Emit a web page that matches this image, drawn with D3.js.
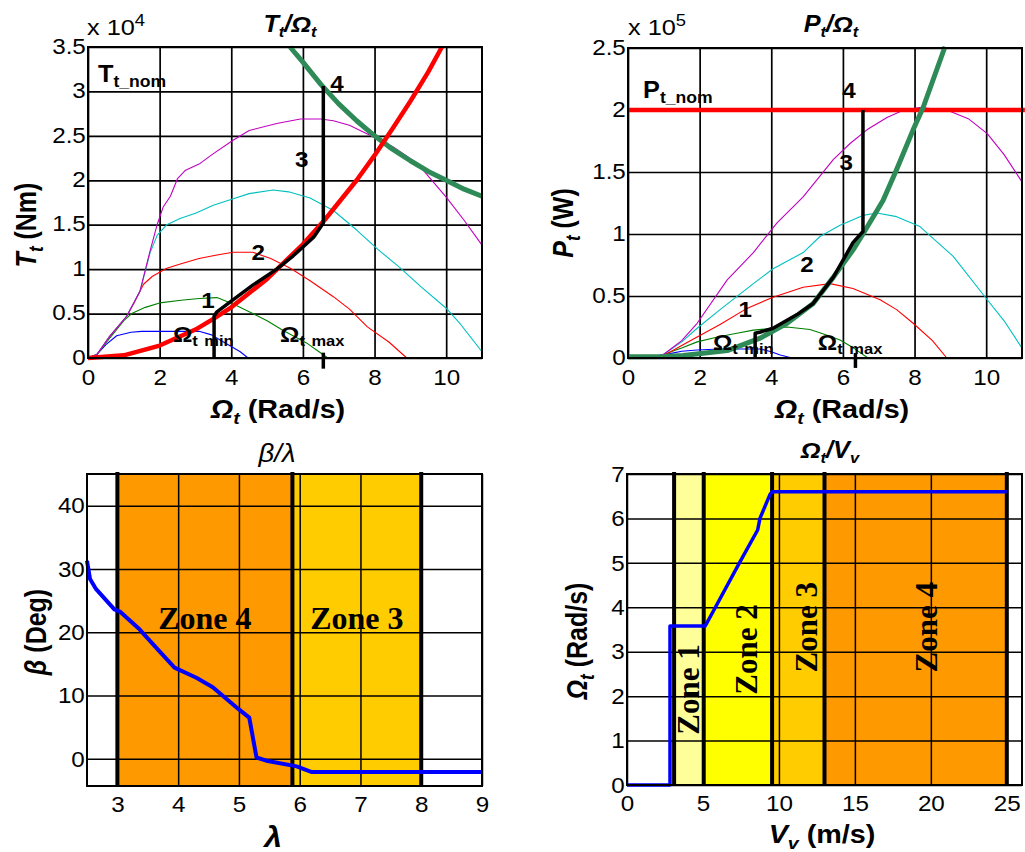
<!DOCTYPE html>
<html><head><meta charset="utf-8">
<script src="https://cdn.jsdelivr.net/npm/d3@7"></script>
<style>
body{margin:0;background:#fff}
svg{display:block}
text{font-family:"Liberation Sans",Arial,sans-serif;fill:#000}
</style></head>
<body><svg id="c" width="1025" height="852"></svg>
<script>
// ---------- tick labels ----------
const omegaTicks = [0,2,4,6,8,10];
const torqueTicks = [0,0.5,1,1.5,2,2.5,3,3.5];
const powerTicks = [0,0.5,1,1.5,2,2.5];
const lambdaTicks = [3,4,5,6,7,8,9];
const betaTicks = [0,10,20,30,40];
const windTicks = [0,5,10,15,20,25];
const speedTicks = [0,1,2,3,4,5,6,7];

// ---------- panel 1 : torque (x1e4 Nm) vs rotor speed ----------
const torqueV1 = [[0,0],[0.25,0.04],[0.5,0.15],[0.8,0.25],[1.2,0.29],[1.5,0.3],[3.1,0.3],[3.45,0.26],[3.7,0.2],[4.0,0.13],[4.25,0.07],[4.47,0]];
const torqueV2 = [[0,0],[0.25,0.04],[0.6,0.22],[1.0,0.42],[1.22,0.5],[1.6,0.57],[2.0,0.62],[2.6,0.65],[3.1,0.67],[3.6,0.68],[4.1,0.6],[4.6,0.5],[5.0,0.42],[5.45,0.31],[6.1,0.17],[6.45,0.07],[6.7,0]];
const torqueV3 = [[0,0],[0.25,0.04],[0.6,0.24],[1.08,0.47],[1.3,0.63],[1.55,0.83],[1.8,0.92],[2.2,1.01],[2.6,1.06],[3.1,1.12],[3.6,1.16],[4.05,1.19],[4.6,1.19],[5.1,1.12],[5.65,1.01],[6.2,0.87],[6.85,0.69],[7.3,0.55],[7.8,0.35],[8.4,0.18],[8.9,0]];
const torqueV4 = [[0,0],[0.25,0.04],[0.6,0.24],[1.08,0.47],[1.45,0.75],[1.73,1.18],[1.93,1.38],[2.2,1.5],[2.57,1.57],[3.0,1.63],[3.5,1.72],[3.97,1.78],[4.5,1.85],[5.17,1.89],[5.6,1.87],[6.2,1.8],[6.85,1.66],[7.5,1.44],[8.1,1.22],[8.7,1.02],[9.3,0.8],[10.0,0.56],[10.4,0.38],[11,0.07]];
const torqueV5 = [[0,0],[0.25,0.04],[0.6,0.24],[1.08,0.47],[1.45,0.75],[1.73,1.2],[1.93,1.5],[2.1,1.7],[2.3,1.82],[2.5,2.02],[2.71,2.11],[3.13,2.19],[3.5,2.3],[4.05,2.45],[4.5,2.56],[5.27,2.64],[5.93,2.69],[6.5,2.69],[6.85,2.67],[7.3,2.62],[7.8,2.52],[8.5,2.38],[9.2,2.19],[9.6,2.0],[10,1.81],[10.5,1.55],[11,1.27]];
const torqueOpt = [[0,0],[1,0.03],[2,0.14],[3,0.32],[3.5,0.44],[4,0.57],[5,0.89],[6,1.28],[6.6,1.55],[7,1.75],[7.5,2.0],[8,2.28],[8.5,2.58],[9,2.89],[9.5,3.22],[9.88,3.5]];
const torqueLimit = [[5.64,3.5],[6,3.33],[6.5,3.08],[7,2.86],[7.5,2.67],[8,2.5],[8.5,2.35],[9,2.22],[9.5,2.1],[10,2.0],[10.5,1.9],[11,1.82]];
const torquePath = [[3.52,0],[3.52,0.47],[3.6,0.52],[4.0,0.64],[4.6,0.82],[5.27,1.0],[5.73,1.15],[6.3,1.36],[6.57,1.52],[6.57,3.06]];
const torqueMaxTick = [[6.57,0.06],[6.57,-0.12]];

// ---------- panel 2 : power (x1e5 W) vs rotor speed ----------
const powerV1 = [[0,0],[0.5,0.003],[1.17,0.035],[1.5,0.055],[1.93,0.065],[2.57,0.073],[3.69,0.073],[4.0,0.05],[4.25,0.024],[4.58,0]];
const powerV2 = [[0,0],[0.8,0.01],[1.0,0.03],[1.5,0.08],[1.93,0.13],[2.5,0.17],[3.04,0.2],[3.5,0.225],[4.05,0.24],[4.44,0.25],[5.08,0.23],[5.5,0.19],[5.92,0.145],[6.3,0.08],[6.7,0]];
const powerV3 = [[0,0],[0.8,0.01],[1.0,0.02],[1.5,0.1],[1.93,0.17],[2.57,0.27],[3.32,0.4],[4.05,0.49],[4.89,0.57],[5.64,0.6],[6.28,0.56],[7.04,0.47],[7.5,0.39],[7.96,0.28],[8.5,0.14],[8.9,0]];
const powerV4 = [[0,0],[0.8,0.01],[1.0,0.03],[1.5,0.13],[1.93,0.24],[2.57,0.39],[3.5,0.6],[4.05,0.72],[4.89,0.85],[5.36,0.98],[5.92,1.07],[6.56,1.15],[6.95,1.17],[7.5,1.14],[8.15,1.06],[9.08,0.82],[10.03,0.47],[10.5,0.3],[11,0.08]];
const powerV5 = [[0,0],[0.8,0.01],[1.0,0.03],[1.5,0.14],[1.93,0.28],[2.77,0.63],[3.5,0.85],[4.16,1.09],[4.89,1.3],[5.73,1.6],[6.2,1.73],[6.67,1.84],[7.23,1.94],[7.7,2.0],[8.15,2.02],[8.9,2.0],[9.5,1.93],[10.03,1.81],[10.5,1.64],[11,1.42]];
const powerNom = [[0,2],[11.08,2]];
const powerOpt = [[0,0.01],[1,0.012],[1.54,0.02],[2.77,0.06],[3.69,0.16],[4.44,0.28],[5.17,0.44],[5.73,0.65],[6.28,0.87],[6.56,1.0],[7.12,1.27],[7.5,1.52],[7.96,1.84],[8.24,2.02],[8.85,2.51]];
const powerPath = [[3.55,0],[3.55,0.2],[3.7,0.21],[4.05,0.24],[4.72,0.35],[5.17,0.44],[5.73,0.65],[6.28,0.93],[6.56,1.02],[6.56,2.0]];
const powerMaxTick = [[6.35,0.04],[6.35,-0.08]];

// ---------- panel 3 : pitch angle vs tip speed ratio ----------
const lambdaVals = [2.5,2.55,2.65,2.95,3.05,3.36,3.69,3.94,4.3,4.57,4.85,5.0,5.17,5.29,5.45,5.95,6.2,9];
const betaVals = [31.3,28.4,26.8,23.6,23.2,20.5,17,14.4,12.8,11.3,9,7.8,6.5,0.2,-0.3,-1.2,-2.1,-2.1];
const lambdaZoneNames = ["Zone 4","Zone 3"];
const lambdaZoneStart = [3,5.88];
const lambdaZoneEnd = [5.88,8];
const lambdaZoneColors = ["#ff9900","#ffcc00"];
const lambdaBounds = [3,5.88,8];

// ---------- panel 4 : rotor speed vs wind speed ----------
const windVals = [0,2.83,2.83,5.15,5.66,7.4,8.6,8.75,9.4,9.55,25];
const speedVals = [0,0,3.58,3.58,3.9,5.0,5.74,6.0,6.53,6.6,6.6];
const windZoneNames = ["Zone 1","Zone 2","Zone 3","Zone 4"];
const windZoneStart = [3.1,5.05,9.55,13];
const windZoneEnd = [5.05,9.55,13,25];
const windZoneColors = ["#ffff99","#ffff00","#ffcc00","#ff9900"];
const windBounds = [3.1,5.05,9.55,13,25];

// =====================================================================
const svg = d3.select("#c");
const SX = 1.1;

function label(g, x, y, segs, o = {}) {
  const sx = o.sx || SX;
  const tr = o.rot ? `translate(${x},${y}) rotate(${o.rot}) scale(1,${sx})` : `translate(${x},${y}) scale(${sx},1)`;
  const t = g.append("text").attr("transform", tr)
    .attr("text-anchor", o.anchor || "start")
    .style("font-size", (o.size || 22) + "px")
    .style("font-weight", o.weight || "normal")
    .style("font-style", o.style || "normal");
  if (o.family) t.style("font-family", o.family);
  let shift = 0;
  segs.forEach(s => {
    if (typeof s === "string") s = {t: s};
    const target = s.dy || 0;
    const ts = t.append("tspan").text(s.t).attr("dy", target - shift);
    if (s.dx) ts.attr("dx", s.dx);
    shift = target;
    if (s.size) ts.style("font-size", s.size + "px");
    if (s.style) ts.style("font-style", s.style);
    if (s.weight) ts.style("font-weight", s.weight);
  });
  return t;
}

function panel(c) {
  const x = d3.scaleLinear().domain(c.xd).range([c.l, c.r]);
  const y = d3.scaleLinear().domain(c.yd).range([c.b, c.t]);
  const g = svg.append("g");
  const bg = g.append("g"), grid = g.append("g"), marks = g.append("g"), top = g.append("g");
  const ax = grid.append("g").attr("transform", `translate(0,${c.b})`)
    .call(d3.axisBottom(x).tickValues(c.xt).tickSize(-(c.b - c.t)).tickPadding(c.xpad || 10).tickFormat(d => String(d)));
  const ay = grid.append("g").attr("transform", `translate(${c.l},0)`)
    .call(d3.axisLeft(y).tickValues(c.yt).tickSize(-(c.r - c.l)).tickPadding(2).tickFormat(d => String(d)));
  [ax, ay].forEach(a => {
    a.select(".domain").remove();
    a.selectAll(".tick line").attr("stroke", "#000").attr("stroke-width", c.gw || 1.7);
    a.selectAll(".tick text").style("font-size", "22px").style("font-family", "'Liberation Sans',Arial,sans-serif")
      .attr("fill", "#000");
  });
  ax.selectAll(".tick text").attr("transform", `scale(${SX},1)`).attr("dy", "0.71em");
  ay.selectAll(".tick text").attr("transform", `scale(${SX},1)`).attr("dy", c.ydy || "0.33em");
  top.append("rect").attr("x", c.l).attr("y", c.t).attr("width", c.r - c.l).attr("height", c.b - c.t)
    .attr("fill", "none").attr("stroke", "#000").attr("stroke-width", 2);
  return {x, y, g, bg, grid, marks, top, ax, ay};
}

function curve(p, data, color, w) {
  const line = d3.line().x(d => p.x(d[0])).y(d => p.y(d[1]));
  p.marks.append("path").attr("d", line(data)).attr("fill", "none")
    .attr("stroke", color).attr("stroke-width", w).attr("stroke-linejoin", "round").attr("stroke-linecap", "butt");
}
function annot(p, xv, yv, segs, o) { label(p.top, p.x(xv), p.y(yv), segs, o); }

const axisLab = {size: 25, weight: "bold", anchor: "middle", sx: 1.15};
const rotLab = {size: 25, weight: "bold", anchor: "middle", rot: -90, sx: 1.2};

// ---------------- Panel 1 ----------------
const p1 = panel({l: 88, r: 482, t: 47, b: 358, xd: [0, 11], yd: [0, 3.5], xt: omegaTicks, yt: torqueTicks, xpad: 11, ydy: "0.28em"});
[[torqueV1, "#0000ff"], [torqueV2, "#008000"], [torqueV3, "#ff0000"], [torqueV4, "#00c0c0"], [torqueV5, "#c000c0"]]
  .forEach(([d, c]) => curve(p1, d, c, 1.1));
curve(p1, torqueLimit, "#2e8b57", 5);
curve(p1, torqueOpt, "#ff0000", 4.5);
curve(p1, torquePath, "#000", 3.5);
curve(p1, torqueMaxTick, "#000", 3.5);

label(svg, 87, 35, ["x 10", {t: "4", dy: -9, size: 16}], {size: 22, sx: 1.15});
label(svg, 290, 32, ["T", {t: "t", dy: 5, size: 15}, {t: "/Ω", dy: 0}, {t: "t", dy: 5, size: 15}], {size: 23, weight: "bold", style: "italic", anchor: "middle"});
label(svg, 36, 225, [{t: "T", style: "italic"}, {t: "t", dy: 6, size: 17, style: "italic"}, {t: " (Nm)", dy: 0}], rotLab);
label(svg, 278, 418, [{t: "Ω", style: "italic"}, {t: "t", dy: 6, size: 17, style: "italic"}, {t: " (Rad/s)", dy: 0}], axisLab);

annot(p1, 0.28, 3.11, ["T", {t: "t_nom", dy: 5, size: 16}], {size: 23, weight: "bold"});
annot(p1, 3.35, 0.56, ["1"], {size: 22, weight: "bold", anchor: "middle"});
annot(p1, 4.75, 1.10, ["2"], {size: 22, weight: "bold", anchor: "middle"});
annot(p1, 5.97, 2.15, ["3"], {size: 22, weight: "bold", anchor: "middle"});
annot(p1, 6.95, 3.0, ["4"], {size: 22, weight: "bold", anchor: "middle"});
annot(p1, 2.37, 0.18, ["Ω", {t: "t", dy: 4, size: 15}, {t: "min", dy: 4, size: 15, dx: 6}], {size: 22, weight: "bold"});
annot(p1, 5.36, 0.18, ["Ω", {t: "t", dy: 4, size: 15}, {t: "max", dy: 4, size: 15, dx: 6}], {size: 22, weight: "bold"});

// ---------------- Panel 2 ----------------
const p2 = panel({l: 628, r: 1022, t: 48, b: 358, xd: [0, 11], yd: [0, 2.5], xt: omegaTicks, yt: powerTicks, xpad: 11, ydy: "0.28em"});
[[powerV1, "#0000ff"], [powerV2, "#008000"], [powerV3, "#ff0000"], [powerV4, "#00c0c0"], [powerV5, "#c000c0"]]
  .forEach(([d, c]) => curve(p2, d, c, 1.1));
curve(p2, powerNom, "#ff0000", 4.5);
curve(p2, powerOpt, "#2e8b57", 5);
curve(p2, powerPath, "#000", 3.5);
curve(p2, powerMaxTick, "#000", 3.5);

label(svg, 628, 35, ["x 10", {t: "5", dy: -9, size: 16}], {size: 22, sx: 1.15});
label(svg, 831, 32, ["P", {t: "t", dy: 5, size: 15}, {t: "/Ω", dy: 0}, {t: "t", dy: 5, size: 15}], {size: 23, weight: "bold", style: "italic", anchor: "middle"});
label(svg, 573, 223, [{t: "P", style: "italic"}, {t: "t", dy: 6, size: 17, style: "italic"}, {t: " (W)", dy: 0}], rotLab);
label(svg, 842, 418, [{t: "Ω", style: "italic"}, {t: "t", dy: 6, size: 17, style: "italic"}, {t: " (Rad/s)", dy: 0}], axisLab);

annot(p2, 0.42, 2.10, ["P", {t: "t_nom", dy: 5, size: 16}], {size: 23, weight: "bold"});
annot(p2, 3.27, 0.33, ["1"], {size: 22, weight: "bold", anchor: "middle"});
annot(p2, 5.0, 0.69, ["2"], {size: 22, weight: "bold", anchor: "middle"});
annot(p2, 6.09, 1.52, ["3"], {size: 22, weight: "bold", anchor: "middle"});
annot(p2, 6.17, 2.10, ["4"], {size: 22, weight: "bold", anchor: "middle"});
annot(p2, 2.37, 0.065, ["Ω", {t: "t", dy: 4, size: 15}, {t: "min", dy: 4, size: 15, dx: 6}], {size: 22, weight: "bold"});
annot(p2, 5.3, 0.065, ["Ω", {t: "t", dy: 4, size: 15}, {t: "max", dy: 4, size: 15, dx: 6}], {size: 22, weight: "bold"});

// ---------------- Panel 3 ----------------
const p3 = panel({l: 87, r: 482, t: 474, b: 786, xd: [2.5, 9], yd: [-4.3, 45], xt: lambdaTicks, yt: betaTicks, xpad: 10, gw: 1.5});
lambdaZoneNames.forEach((n, i) => {
  p3.bg.append("rect").attr("x", p3.x(lambdaZoneStart[i])).attr("y", p3.y(45))
    .attr("width", p3.x(lambdaZoneEnd[i]) - p3.x(lambdaZoneStart[i])).attr("height", p3.y(-4.3) - p3.y(45))
    .attr("fill", lambdaZoneColors[i]);
});
lambdaBounds.forEach(v => {
  p3.marks.append("line").attr("x1", p3.x(v)).attr("x2", p3.x(v)).attr("y1", p3.y(45) - 2).attr("y2", p3.y(-4.3))
    .attr("stroke", "#000").attr("stroke-width", 4);
});
lambdaZoneNames.forEach((n, i) => {
  label(p3.top, p3.x((lambdaZoneStart[i] + lambdaZoneEnd[i]) / 2), p3.y(20.5), [n],
    {size: 32, weight: "bold", anchor: "middle", family: "'Liberation Serif','Times New Roman',serif", sx: 1});
});
curve(p3, lambdaVals.map((v, i) => [v, betaVals[i]]), "#0000ff", 4);
label(svg, 277, 462, ["β/λ"], {size: 25, style: "italic", anchor: "middle"});
label(svg, 46, 632, [{t: "β", style: "italic"}, {t: " (Deg)"}], rotLab);
label(svg, 273, 847, ["λ"], {size: 29, style: "italic", weight: "bold", anchor: "middle"});

// ---------------- Panel 4 ----------------
const p4 = panel({l: 627, r: 1022, t: 474, b: 785, xd: [0, 26], yd: [0, 7], xt: windTicks, yt: speedTicks, xpad: 10, gw: 1.5});
windZoneNames.forEach((n, i) => {
  p4.bg.append("rect").attr("x", p4.x(windZoneStart[i])).attr("y", p4.y(7))
    .attr("width", p4.x(windZoneEnd[i]) - p4.x(windZoneStart[i])).attr("height", p4.y(0) - p4.y(7))
    .attr("fill", windZoneColors[i]);
});
windBounds.forEach(v => {
  p4.marks.append("line").attr("x1", p4.x(v)).attr("x2", p4.x(v)).attr("y1", p4.y(7) - 2).attr("y2", p4.y(0))
    .attr("stroke", "#000").attr("stroke-width", 4);
});
const zoneLabelY = [2.15, 3.05, 3.55, 3.55];
const zoneLabelDx = [0, 9, 9, 11];
windZoneNames.forEach((n, i) => {
  label(p4.top, p4.x((windZoneStart[i] + windZoneEnd[i]) / 2) + zoneLabelDx[i] + 10, p4.y(zoneLabelY[i]), [n],
    {size: 31, weight: "bold", anchor: "middle", rot: -90, family: "'Liberation Serif','Times New Roman',serif", sx: 1});
});
curve(p4, windVals.map((v, i) => [v, speedVals[i]]), "#0000ff", 3.5);
label(svg, 830, 458, ["Ω", {t: "t", dy: 5, size: 15}, {t: "/V", dy: 0}, {t: "v", dy: 5, size: 15}], {size: 23, weight: "bold", style: "italic", anchor: "middle"});
label(svg, 587, 641, [{t: "Ω", style: "italic"}, {t: "t", dy: 6, size: 17, style: "italic"}, {t: " (Rad/s)", dy: 0}], rotLab);
label(svg, 822, 843, [{t: "V", style: "italic"}, {t: "v", dy: 6, size: 17, style: "italic"}, {t: " (m/s)", dy: 0}], axisLab);
</script></body></html>
